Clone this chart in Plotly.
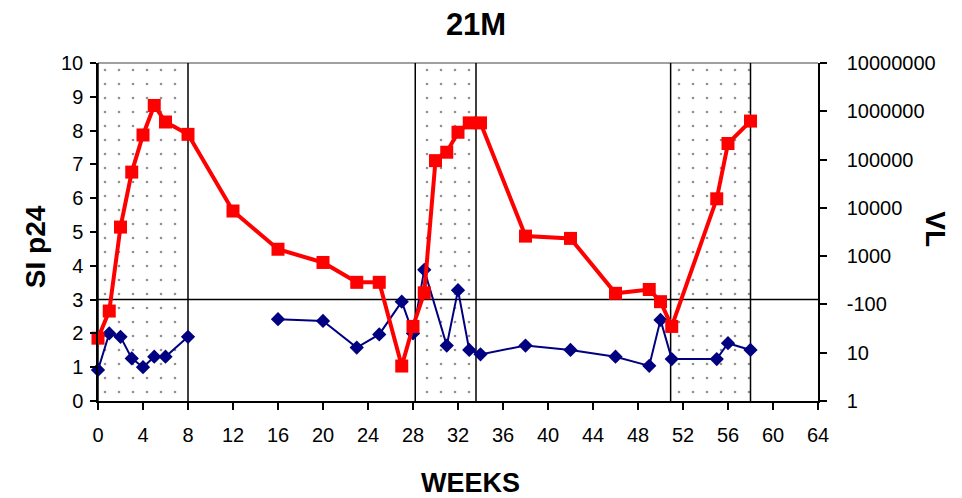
import plotly.graph_objects as go

# ---- data ----
si_weeks = [0, 1, 2, 3, 4, 5, 6, 8, 12, 16, 20, 23, 25, 27, 28, 29, 31, 32, 33, 34,
            38, 42, 46, 49, 50, 51, 55, 56, 58]
si_values = [0.92, 2.0, 1.9, 1.26, 1.0, 1.31, 1.31, 1.9, None, 2.42, 2.37, 1.58, 1.97, 2.94,
             2.0, 3.88, 1.64, 3.28, 1.51, 1.38, 1.64, 1.51, 1.31, 1.04, 2.4, 1.24, 1.24,
             1.71, 1.51]

vl_weeks = [0, 1, 2, 3, 4, 5, 6, 8, 12, 16, 20, 23, 25, 27, 28, 29, 30, 31, 32, 33, 34,
            38, 42, 46, 49, 50, 51, 55, 56, 58]
vl_values = [20, 73, 4000, 55000, 323000, 1320000, 600000, 333000, 8600, 1390, 740, 287,
             287, 5.3, 35, 174, 95000, 142000, 368000, 575000, 575000, 2600, 2330, 170,
             204, 114, 35, 15400, 215000, 627000]

shade_start = [0, 28.2, 50.9]
shade_end = [8, 33.6, 58]

si_threshold = 3

x_ticks = list(range(0, 65, 4))
vl_tickvals = [1, 10, 100, 1000, 10000, 100000, 1000000, 10000000]
vl_ticktext = ["1", "10", "-100", "1000", "10000", "100000", "1000000", "10000000"]

FONT = "Liberation Sans, Arial, sans-serif"

fig = go.Figure()

# shaded (dotted) periods
for s, e in zip(shade_start, shade_end):
    fig.add_trace(go.Scatter(
        x=[s, e, e, s, s], y=[0, 0, 10, 10, 0], mode="lines", fill="toself",
        line=dict(width=0), fillcolor="rgba(0,0,0,0)",
        fillpattern=dict(shape=".", fgcolor="#222222", bgcolor="rgba(0,0,0,0)",
                         size=14, solidity=0.028),
        hoverinfo="skip", showlegend=False, xaxis="x", yaxis="y"))

fig.add_trace(go.Scatter(
    x=si_weeks, y=si_values, mode="lines+markers", name="SI p24",
    line=dict(color="#000080", width=2),
    marker=dict(symbol="diamond", size=11, color="#000080"),
    cliponaxis=False, xaxis="x", yaxis="y", showlegend=False))

fig.add_trace(go.Scatter(
    x=vl_weeks, y=vl_values, mode="lines+markers", name="VL",
    line=dict(color="#FF0000", width=4),
    marker=dict(symbol="square", size=13, color="#FF0000"),
    cliponaxis=False, xaxis="x", yaxis="y2", showlegend=False))

shapes = []
for s, e in zip(shade_start, shade_end):
    for xv in (s, e):
        shapes.append(dict(type="line", xref="x", yref="y", x0=xv, x1=xv, y0=0, y1=10,
                           line=dict(color="black", width=1.5), layer="below"))
shapes.append(dict(type="line", xref="paper", yref="y", x0=0, x1=1, y0=si_threshold,
                   y1=si_threshold, line=dict(color="black", width=1.5), layer="below"))
shapes.append(dict(type="line", xref="paper", yref="paper", x0=0, x1=1, y0=1, y1=1,
                   line=dict(color="#808080", width=1.5), layer="below"))

fig.update_layout(
    width=954, height=490,
    margin=dict(l=90, r=144, t=55, b=97),
    paper_bgcolor="white", plot_bgcolor="white",
    font=dict(family=FONT, color="black", size=20),
    title=dict(text="<b>21M</b>", xref="container", yref="container", x=0.4906, y=0.968,
               xanchor="center", yanchor="middle", font=dict(size=31, family=FONT)),
    xaxis=dict(range=[0, 64], tickvals=x_ticks, ticks="outside", ticklen=7,
               tickwidth=1.5, tickcolor="black", showline=True, linecolor="black",
               linewidth=1.5, showgrid=False, zeroline=False,
               tickfont=dict(size=20), ticklabelstandoff=8),
    yaxis=dict(range=[0, 10], dtick=1, ticks="outside", ticklen=6, tickwidth=1.5,
               tickcolor="black", showline=True, linecolor="black", linewidth=1.5,
               showgrid=False, zeroline=False, tickfont=dict(size=20),
               ticklabelstandoff=3),
    yaxis2=dict(type="log", range=[0, 7], overlaying="y", side="right",
                tickvals=vl_tickvals, ticktext=vl_ticktext, ticks="outside",
                ticklen=7, tickwidth=1.5, tickcolor="black", showline=True,
                linecolor="black", linewidth=1.5, showgrid=False, zeroline=False,
                tickfont=dict(size=20), ticklabelstandoff=16),
    shapes=shapes,
    annotations=[
        dict(text="<b>WEEKS</b>", xref="paper", yref="paper", x=0.517, y=0,
             yshift=-82, xanchor="center", yanchor="middle", showarrow=False,
             font=dict(size=27)),
        dict(text="<b>SI p24</b>", xref="paper", yref="paper", x=0, y=0.455,
             xshift=-63, xanchor="center", yanchor="middle", textangle=-90,
             showarrow=False, font=dict(size=28)),
        dict(text="<b>VL</b>", xref="paper", yref="paper", x=1, y=0.508,
             xshift=118, xanchor="center", yanchor="middle", textangle=90,
             showarrow=False, font=dict(size=28)),
    ],
)

fig.write_html("out.html")
